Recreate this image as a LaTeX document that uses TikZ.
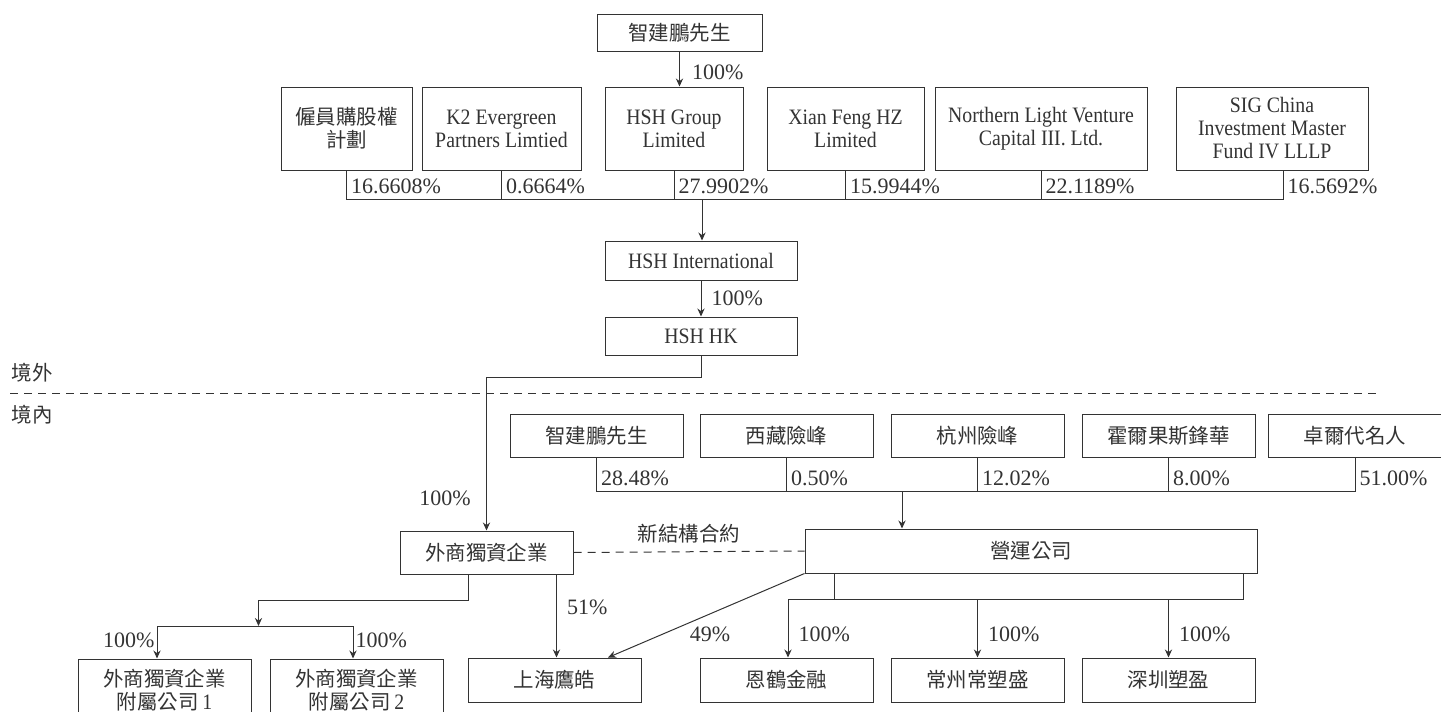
\documentclass[tikz,border=0pt]{standalone}
\usepackage{fontspec}
\setmainfont{Liberation Serif}
\newfontfamily\boxfont{Liberation Serif}[FakeStretch=0.9]
\newfontfamily\cjk{Noto Sans CJK TC}[Scale=0.93]
\usetikzlibrary{arrows.meta}
\definecolor{ink}{HTML}{333333}
\tikzset{
  box/.style={draw, align=center, minimum width=86.5pt, minimum height=21.5pt, inner sep=1pt,
    font=\fontsize{11}{11.5}\selectfont\boxfont},
  tallbox/.style={box, minimum height=41.5pt},
  pct/.style={anchor=west, inner sep=2pt},
  lab/.style={inner sep=1pt},
  split/.style={dash pattern=on 4pt off 3pt}
}
\begin{document}
\begin{tikzpicture}[x=0.5pt, y=-0.5pt, color=ink, line width=0.5pt,
    >={Stealth[length=4pt,width=3.6pt]}, font=\fontsize{11}{11.5}\selectfont]
\useasboundingbox (0,0) rectangle (1441,712);
\clip (0,0) rectangle (1441,712);

% offshore holders
\node[box, minimum width=82.5pt, minimum height=18.5pt] (zjp) at (679.5,32.5) {\cjk 智建鵬先生};
\node[tallbox, minimum width=65.5pt] (esop) at (346.5,128.5) {\cjk 僱員購股權\\\cjk 計劃};
\node[tallbox, minimum width=79.5pt] (k2) at (501.5,128.5) {K2 Evergreen\\Partners Limtied};
\node[tallbox, minimum width=69pt] (hshg) at (674,128.5) {HSH Group\\Limited};
\node[tallbox, minimum width=78.5pt] (xf) at (845.5,128.5) {Xian Feng HZ\\Limited};
\node[tallbox, minimum width=106pt] (nl) at (1041,128.5) {Northern Light Venture\\Capital III. Ltd.};
\node[tallbox, minimum width=96pt] (sig) at (1272,128.5) {SIG China\\Investment Master\\Fund IV LLLP};

\draw[->] (zjp) -- (zjp |- hshg.north) node[lab, right=5pt, pos=0.6] {100\%};

\coordinate (tb) at (702,199);
\draw (esop.south) |- (tb);
\draw (k2.south) |- (tb);
\draw (hshg.south) |- (tb);
\draw (xf.south) |- (tb);
\draw (nl.south) |- (tb);
\draw ([xshift=5.5pt]sig.south) |- (tb);

\node[pct] (p1) at (346.5,186) {16.6608\%};
\node[pct] (p2) at (501.5,186) {0.6664\%};
\node[pct] (p3) at (674,186) {27.9902\%};
\node[pct] (p4) at (845.5,186) {15.9944\%};
\node[pct] (p5) at (1041,186) {22.1189\%};
\node[pct] (p6) at (1283,186) {16.5692\%};

\node[box, minimum width=96pt, minimum height=19.5pt] (hi) at (701,260.5) {HSH International};
\node[box, minimum width=96pt, minimum height=19pt] (hk) at (701,336) {HSH HK};
\draw[->] (tb) -- (tb |- hi.north);
\draw[->] (hi) -- (hk) node[lab, right=4pt, midway] {100\%};

% border
\node[lab] (out) at (32,373) {\cjk 境外};
\node[lab] (in) at (32,415) {\cjk 境內};
\coordinate (bl) at (10,393);
\coordinate (br) at (1380,393);
\draw[split] (bl) -- (br);

% onshore holders
\node[box] (a1) at (596.5,435.5) {\cjk 智建鵬先生};
\node[box] (a2) at (786.5,435.5) {\cjk 西藏險峰};
\node[box] (a3) at (977.5,435.5) {\cjk 杭州險峰};
\node[box] (a4) at (1168.5,435.5) {\cjk 霍爾果斯鋒華};
\node[box] (a5) at (1355,435.5) {\cjk 卓爾代名人};

\coordinate (ob) at (902,491);
\draw (a1.south) |- (ob);
\draw (a2.south) |- (ob);
\draw (a3.south) |- (ob);
\draw (a4.south) |- (ob);
\draw (a5.south) |- (ob);

\node[pct] (q1) at (596.5,478) {28.48\%};
\node[pct] (q2) at (786.5,478) {0.50\%};
\node[pct] (q3) at (977.5,478) {12.02\%};
\node[pct] (q4) at (1168.5,478) {8.00\%};
\node[pct] (q5) at (1355,478) {51.00\%};

\node[box] (wfoe) at (486.5,552.5) {\cjk 外商獨資企業};
\node[box, minimum width=226pt, minimum height=22pt] (op) at (1031,551) {\cjk 營運公司};

\draw[->] (hk.south) -- ++(0,22) -| (wfoe.north);
\node[lab] (l1) at (445,498) {100\%};
\draw[->] (ob) -- (ob |- op.north);
\draw[split] (wfoe.east) -- (op.west) node[midway, above, inner sep=4pt] {\cjk 新結構合約};

% subsidiaries
\node[box, minimum height=31pt] (sub1) at (164.5,690) {{\cjk 外商獨資企業}\\{\cjk 附屬公司}\,1};
\node[box, minimum height=31pt] (sub2) at (356.5,690) {{\cjk 外商獨資企業}\\{\cjk 附屬公司}\,2};
\node[box, minimum height=22pt] (shyh) at (554.5,680) {\cjk 上海鷹皓};
\node[box, minimum height=22pt] (ehjr) at (786.5,680) {\cjk 恩鶴金融};
\node[box, minimum height=22pt] (czcs) at (977.5,680) {\cjk 常州常塑盛};
\node[box, minimum height=22pt] (szsy) at (1168.5,680) {\cjk 深圳塑盈};

\coordinate (wj) at (258.5,600);
\coordinate (s1) at (157,626);
\coordinate (s2) at (353,626);
\draw ([xshift=-9.25pt]wfoe.south) |- (wj);
\draw[->] (wj) -- (wj |- s1);
\draw (s1) -- (s2);
\draw[->] (s1) -- (s1 |- sub1.north) node[lab, left, pos=0.45] {100\%};
\draw[->] (s2) -- (s2 |- sub2.north) node[lab, right, pos=0.45] {100\%};

\draw[->] ([xshift=1pt]shyh.north |- wfoe.south) -- ([xshift=1pt]shyh.north) node[lab, right=4pt, pos=0.4] {51\%};
\draw[->] (op.south west) -- ([xshift=26.75pt]shyh.north);
\node[lab] (l49) at (710,634) {49\%};

\coordinate (o1) at (788,599);
\draw ([xshift=15pt]op.south west) |- (o1);
\draw ([xshift=-7pt]op.south east) |- (o1);
\draw[->] (o1) -- (o1 |- ehjr.north) node[lab, right=4pt, pos=0.6] {100\%};
\draw[->] (czcs.north |- o1) -- (czcs.north) node[lab, right=4pt, pos=0.6] {100\%};
\draw[->] (szsy.north |- o1) -- (szsy.north) node[lab, right=4pt, pos=0.6] {100\%};
\end{tikzpicture}
\end{document}
